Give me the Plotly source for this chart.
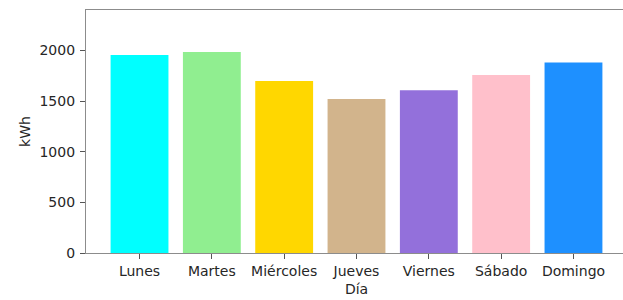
import plotly.graph_objects as go

dias = ["Lunes", "Martes", "Miércoles", "Jueves", "Viernes", "Sábado", "Domingo"]
consumo_kwh = [1955, 1985, 1700, 1522, 1608, 1758, 1882]
colores = ["#00FFFF", "#90EE90", "#FFD700", "#D2B48C", "#9370DB", "#FFC0CB", "#1E90FF"]
yticks = [0, 500, 1000, 1500, 2000]

font = dict(family="DejaVu Sans", size=14, color="#262626")

fig = go.Figure(go.Bar(
    x=list(range(len(dias))), y=consumo_kwh,
    marker=dict(color=colores, line=dict(width=0)),
    width=0.8,
))

fig.update_layout(
    width=627, height=300,
    margin=dict(l=86, r=0, t=10, b=47),
    paper_bgcolor="white", plot_bgcolor="white",
    font=font, showlegend=False,
    xaxis=dict(
        range=[-0.74, 6.74],
        tickmode="array", tickvals=list(range(len(dias))), ticktext=dias,
        showline=True, linecolor="#8c8c8c", linewidth=1.2, mirror=True,
        ticks="outside", ticklen=5, tickcolor="#555555", tickwidth=1,
        showgrid=False, zeroline=False, automargin=False,
        title=dict(text="Día", font=font, standoff=6),
        tickfont=font,
    ),
    yaxis=dict(
        range=[0, 2400],
        tickmode="array", tickvals=yticks, ticktext=[str(v) for v in yticks],
        showline=True, linecolor="#8c8c8c", linewidth=1.2,
        ticks="outside", ticklen=5, tickcolor="#555555", tickwidth=1,
        ticklabelstandoff=2,
        showgrid=False, zeroline=False, automargin=False,
        title=dict(text="kWh", font=font, standoff=5),
        tickfont=font,
    ),
)

fig.write_html(
    "out.html",
    config={"displayModeBar": False},
    post_script="document.body.style.margin='0';document.body.style.overflow='hidden';",
)
